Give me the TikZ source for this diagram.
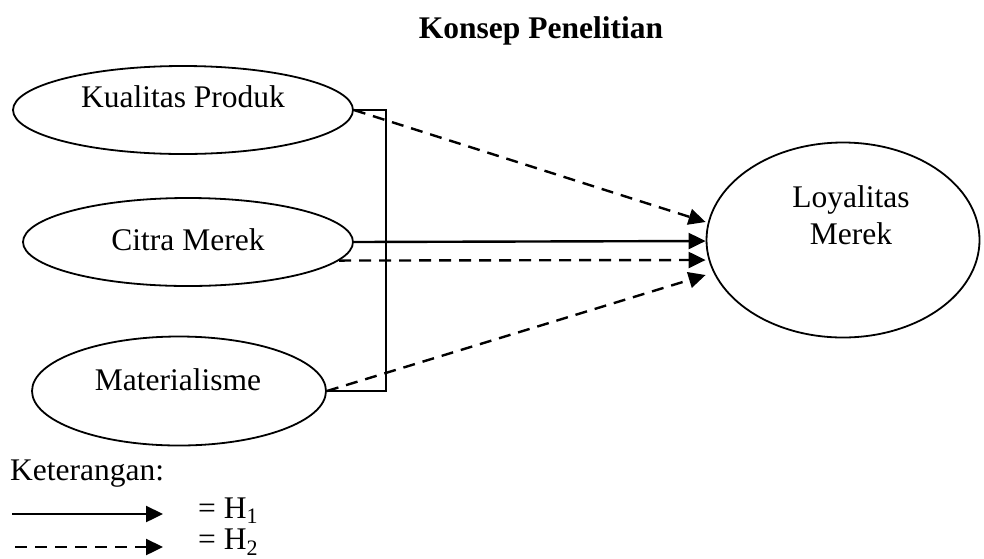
\documentclass[tikz,border=0pt]{standalone}
\usepackage{fontspec}
\setmainfont{Liberation Serif}
\usetikzlibrary{shapes.geometric,arrows.meta}
\begin{document}
\begin{tikzpicture}[x=1pt,y=-1pt,
  construct/.style={draw,ellipse,line width=1.8pt,inner sep=0pt},
  lbl/.style={font=\fontsize{31.5}{37}\selectfont,inner sep=0pt},
  direct/.style={line width=2.4pt,-{Triangle[length=17pt,width=16pt]}},
  indirect/.style={direct,dash pattern=on 12pt off 8pt},
  bracket/.style={line width=1.8pt},
]
\useasboundingbox (0,0) rectangle (984,558);

% title
\node[inner sep=0pt,font=\fontsize{31.5}{37}\selectfont\bfseries,anchor=base] (title) at (541,38) {Konsep Penelitian};

% constructs
\node[construct,minimum width=340pt,minimum height=88pt] (kp) at (183,110) {};
\node[construct,minimum width=330pt,minimum height=88pt] (cm) at (188,242) {};
\node[construct,minimum width=294pt,minimum height=109pt] (mt) at (179,391) {};
\node[construct,minimum width=273pt,minimum height=195pt] (ly) at (843,240) {};

\node[lbl,anchor=base] (kpt) at (183,107) {Kualitas Produk};
\node[lbl,anchor=base] (cmt) at (188,250) {Citra Merek};
\node[lbl,anchor=base] (mtt) at (178,390) {Materialisme};
% base of a two-line node sits on its last line
\node[lbl,anchor=base,align=center] (lyt) at (851,244) {Loyalitas\\Merek};

% bracket joining the three independent variables
\coordinate (brk) at (386,0);
\draw[bracket] (kp.east) -- (kp.east -| brk) -- (mt.east -| brk) -- (mt.east);

% paths
\draw[indirect] (kp.east) -- ([yshift=18pt]ly.west);
\draw[direct] (cm.east) -- ([yshift=-1pt]ly.west);
\draw[indirect] (cm.-7) -- ([yshift=-20pt]ly.west);
\draw[indirect] (mt.east) -- ([yshift=-35pt]ly.west);

% legend
\node[lbl,anchor=base west] (ket) at (10,480) {Keterangan:};
\coordinate (s1) at (12,514);
\coordinate (e1) at (163,514);
\coordinate (s2) at (15,547);
\coordinate (e2) at (163,547);
\draw[direct] (s1) -- (e1);
\draw[indirect] (s2) -- (e2);
\node[lbl,anchor=base west] (h1) at (198,518) {= H\textsubscript{1}};
\node[lbl,anchor=base west] (h2) at (198,549) {= H\textsubscript{2}};
\end{tikzpicture}
\end{document}
